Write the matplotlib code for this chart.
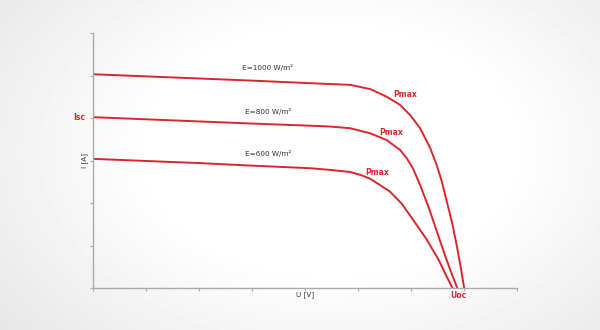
import numpy as np
import matplotlib.pyplot as plt

# I-U curves (U in tick units, I in tick units)
u1000 = [0, 1, 2, 3, 4.09, 4.47, 4.85, 5.23, 5.54, 5.79, 5.98, 6.17, 6.36, 6.48,
         6.58, 6.67, 6.77, 6.86, 6.94, 7.0]
i1000 = [5.03, 4.98, 4.93, 4.88, 4.82, 4.8, 4.78, 4.68, 4.5, 4.31, 4.07, 3.76, 3.29, 2.9,
         2.5, 2.05, 1.55, 1.0, 0.45, 0]
u800 = [0, 1, 2, 3, 4.09, 4.47, 4.85, 5.23, 5.54, 5.79, 5.92, 6.04, 6.17, 6.33, 6.48,
        6.63, 6.76, 6.87]
i800 = [4.02, 3.97, 3.92, 3.87, 3.82, 3.8, 3.76, 3.64, 3.48, 3.25, 3.05, 2.8, 2.42, 1.9, 1.35,
        0.8, 0.35, 0]
u600 = [0, 1, 2, 3, 4.09, 4.47, 4.85, 5.05, 5.23, 5.6, 5.82, 6.04, 6.3, 6.52, 6.67, 6.78]
i600 = [3.04, 2.99, 2.94, 2.88, 2.82, 2.78, 2.73, 2.66, 2.57, 2.27, 1.99, 1.6, 1.13, 0.66, 0.27, 0]

labels = ['E=1000 W/m²', 'E=800 W/m²', 'E=600 W/m²']
label_pos = [(3.3, 5.1), (3.3, 4.08), (3.3, 3.08)]
pmax_pos = [(5.66, 4.56), (5.4, 3.65), (5.13, 2.73)]

red = '#d9262e'
fig = plt.figure(figsize=(6, 3.3), dpi=100)

# soft grey vignette behind the chart
bg = fig.add_axes([0, 0, 1, 1])
yy, xx = np.mgrid[0:330, 0:600]
r = np.sqrt(((xx - 330) / 330.0) ** 2 + ((yy - 150) / 220.0) ** 2)
shade = 1 - 0.13 * np.clip(r - 0.55, 0, 1)
bg.imshow(shade, cmap='gray', vmin=0, vmax=1, aspect='auto')
bg.axis('off')

ax = fig.add_axes([0.155, 0.127, 0.707, 0.773])
ax.patch.set_alpha(0)
for u, i in [(u1000, i1000), (u800, i800), (u600, i600)]:
    ax.plot(u, i, color=red, lw=1.4, solid_joinstyle='round')

for t, (x, y) in zip(labels, label_pos):
    ax.text(x, y, t, fontsize=5.2, color='#333333', ha='center', va='bottom')
for x, y in pmax_pos:
    ax.text(x, y, 'Pmax', fontsize=5.5, color=red, fontweight='bold', ha='left', va='center')

ax.set_xlim(0, 8)
ax.set_ylim(0, 6)
ax.set_xticks(np.arange(0, 9))
ax.set_yticks(np.arange(0, 7))
ax.set_xticklabels([])
ax.set_yticklabels([])
ax.tick_params(length=2.5, width=0.8, color='#aaaaaa')
for s in ['top', 'right']:
    ax.spines[s].set_visible(False)
for s in ['left', 'bottom']:
    ax.spines[s].set_color('#aaaaaa')
    ax.spines[s].set_linewidth(1)

ax.text(-0.15, 4.02, 'Isc', fontsize=5.5, color=red, fontweight='bold', ha='right', va='center')
ax.text(-0.1, 3.0, 'I [A]', fontsize=5.2, color='#333333', rotation=90, ha='right', va='center')
ax.text(4.0, -0.08, 'U [V]', fontsize=5.2, color='#333333', ha='center', va='top')
ax.text(6.9, -0.08, 'Uoc', fontsize=5.5, color=red, fontweight='bold', ha='center', va='top')

fig.savefig('out.png', dpi=100)
